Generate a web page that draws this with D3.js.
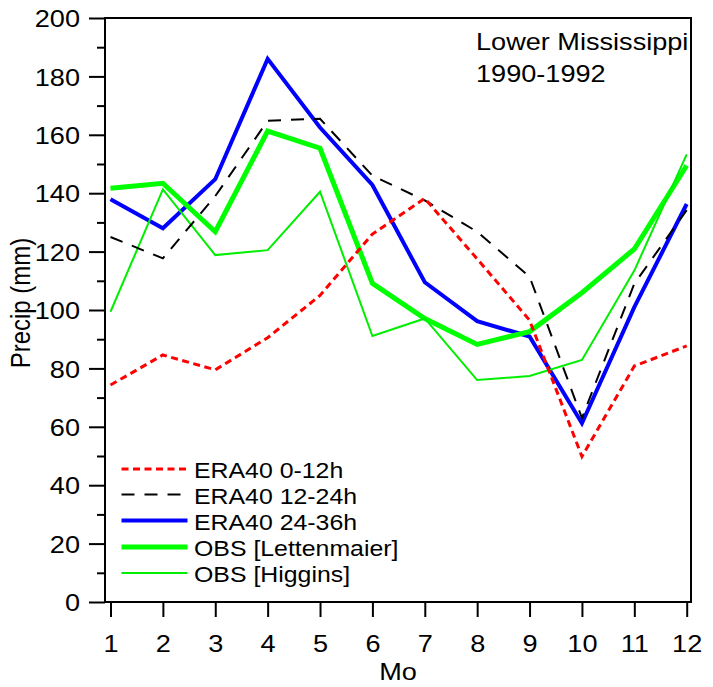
<!DOCTYPE html>
<html>
<head>
<meta charset="utf-8">
<script src="https://cdn.jsdelivr.net/npm/d3@7"></script>
<style>
  html, body { margin: 0; padding: 0; background: #fff; }
  svg { display: block; }
  text { font-family: "Liberation Sans", Arial, sans-serif; fill: #000; }
</style>
</head>
<body>
<svg id="chart" width="713" height="687"></svg>
<script>
// ---- data ----
const months = [1, 2, 3, 4, 5, 6, 7, 8, 9, 10, 11, 12];
const era40_0_12 = [74.3, 84.6, 79.5, 90.5, 105, 126, 138.2, 117.5, 96.5, 49.8, 80.8, 87.7];
const era40_12_24 = [125, 117.7, 139, 164.8, 165.5, 146, 137.5, 126.8, 111.4, 63, 109, 134.2];
const era40_24_36 = [137.9, 128, 144.8, 186, 162.5, 142.8, 109.5, 96.2, 90.9, 61.2, 101, 136.3];
const obsLettenmaier = [141.7, 143.4, 126.8, 161.3, 155.4, 109.1, 97.1, 88.2, 92.6, 105.9, 120.9, 149.5];
const obsHiggins = [99.4, 141.3, 118.8, 120.5, 140.5, 91.1, 97.1, 76, 77.4, 82.9, 113.5, 153.3];
const yTicks = [0, 20, 40, 60, 80, 100, 120, 140, 160, 180, 200];
const yMinorTicks = [10, 30, 50, 70, 90, 110, 130, 150, 170, 190];
const seriesNames = ["ERA40 0-12h", "ERA40 12-24h", "ERA40 24-36h", "OBS [Lettenmaier]", "OBS [Higgins]"];
const titleLines = ["Lower Mississippi", "1990-1992"];

// ---- styles ----
const SX = 1.13; // horizontal text stretch
const styles = [
  { color: "#ff0000", width: 3, dash: "7,4.5" },
  { color: "#000000", width: 2, dash: "13,10" },
  { color: "#0000ff", width: 4, dash: null },
  { color: "#00ff00", width: 5, dash: null },
  { color: "#00ee00", width: 2, dash: null }
];
const seriesData = [era40_0_12, era40_12_24, era40_24_36, obsLettenmaier, obsHiggins];

const svg = d3.select("#chart");
const box = { left: 105, right: 691, top: 18, bottom: 602 };

const x = d3.scaleLinear().domain([1, 12]).range([110.5, 686.7]);
const y = d3.scaleLinear().domain([0, 200]).range([box.bottom, box.top]);

function stext(parent, tx, ty, str, size, anchor) {
  return parent.append("text")
    .attr("transform", `translate(${tx},${ty}) scale(${SX},1)`)
    .attr("font-size", size)
    .attr("text-anchor", anchor || "start")
    .text(str);
}

// y minor ticks
svg.append("g").attr("transform", `translate(${box.left},0)`)
  .call(d3.axisLeft(y).tickValues(yMinorTicks).tickSize(8).tickFormat(""))
  .call(g => g.select(".domain").remove())
  .selectAll("line").attr("stroke", "#000").attr("stroke-width", 2);

// y major ticks
const yAx = svg.append("g").attr("transform", `translate(${box.left},0)`)
  .call(d3.axisLeft(y).tickValues(yTicks).tickSize(16).tickPadding(0).tickFormat(d3.format("d")));
yAx.select(".domain").remove();
yAx.selectAll("line").attr("stroke", "#000").attr("stroke-width", 2);
yAx.selectAll("text")
  .attr("font-size", 24)
  .attr("font-family", "Liberation Sans, Arial, sans-serif")
  .attr("fill", "#000")
  .attr("x", -25 / SX)
  .attr("dy", "0.36em")
  .attr("transform", `scale(${SX},1)`);

// x ticks
const xAx = svg.append("g").attr("transform", `translate(0,${box.bottom})`)
  .call(d3.axisBottom(x).tickValues(months).tickSize(15).tickSizeOuter(0).tickFormat(d3.format("d")));
xAx.select(".domain").remove();
xAx.selectAll("line").attr("stroke", "#000").attr("stroke-width", 2);
xAx.selectAll("text")
  .attr("font-size", 24)
  .attr("font-family", "Liberation Sans, Arial, sans-serif")
  .attr("fill", "#000")
  .attr("y", 50)
  .attr("dy", 0)
  .attr("transform", `scale(${SX},1)`);
xAx.selectAll(".tick").each(function(d) {
  d3.select(this).select("text").attr("x", 0);
});

// series lines
const line = d3.line().x((d, i) => x(months[i])).y(d => y(d));
const drawOrder = [2, 3, 4, 1, 0];
drawOrder.forEach(k => {
  const s = styles[k];
  svg.append("path")
    .datum(seriesData[k])
    .attr("d", line)
    .attr("fill", "none")
    .attr("stroke", s.color)
    .attr("stroke-width", s.width)
    .attr("stroke-linejoin", "miter")
    .attr("stroke-dasharray", s.dash);
});

// frame
svg.append("rect")
  .attr("x", box.left).attr("y", box.top)
  .attr("width", box.right - box.left).attr("height", box.bottom - box.top)
  .attr("fill", "none").attr("stroke", "#000").attr("stroke-width", 2);

// title
stext(svg, 476, 50, titleLines[0], 24);
stext(svg, 476, 82, titleLines[1], 24);

// axis labels
stext(svg, 398, 680, "Mo", 24, "middle");
svg.append("text")
  .attr("transform", `translate(29.5,303) scale(${SX},1) rotate(-90)`)
  .attr("font-size", 24)
  .attr("text-anchor", "middle")
  .text("Precip (mm)");

// legend
const legRows = [469, 494.5, 520.5, 547, 573];
seriesNames.forEach((name, k) => {
  const s = styles[k];
  const yy = legRows[k];
  svg.append("line")
    .attr("x1", 121.5).attr("x2", 187.5)
    .attr("y1", yy).attr("y2", yy)
    .attr("stroke", s.color)
    .attr("stroke-width", s.width)
    .attr("stroke-dasharray", s.dash);
  stext(svg, 194, yy + 9, name, 22);
});
</script>
</body>
</html>
